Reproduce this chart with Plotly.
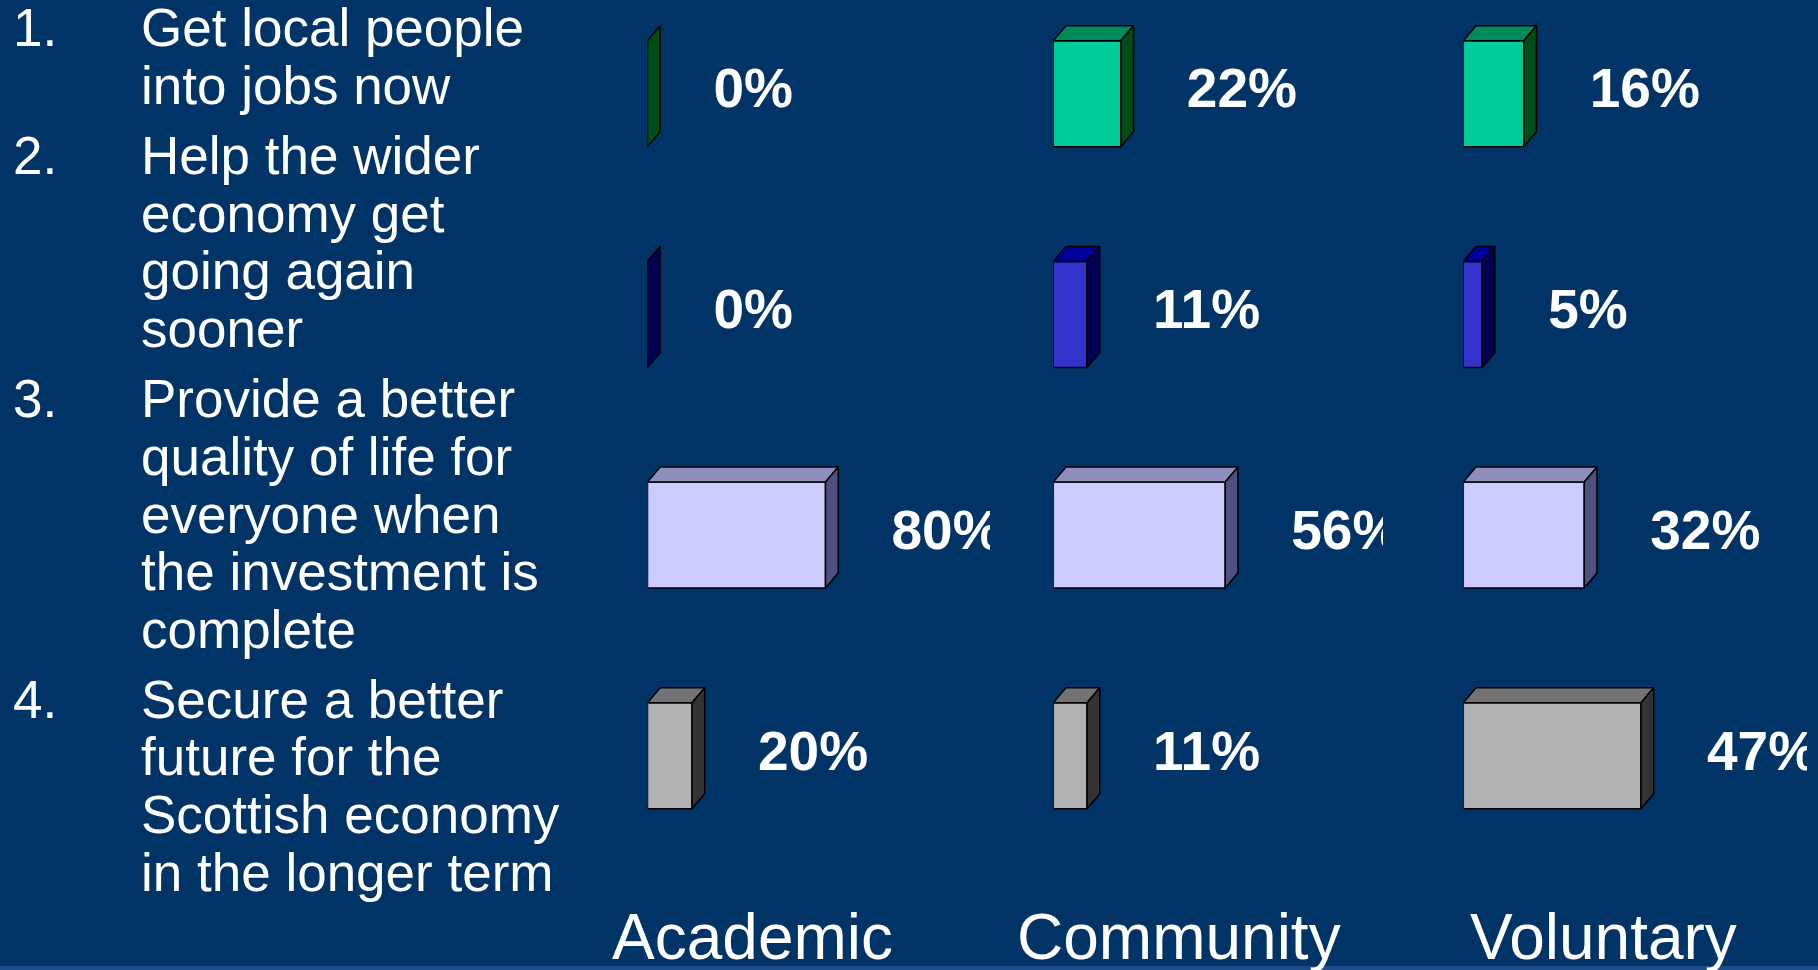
import plotly.graph_objects as go

# ---------------- data ----------------
groups = ["Academic", "Community", "Voluntary"]
academic = [0, 0, 80, 20]
community = [22, 11, 56, 11]
voluntary = [16, 5, 32, 47]

statement_numbers = ["1.", "2.", "3.", "4."]
statement_lines = [
    ["Get local people", "into jobs now"],
    ["Help the wider", "economy get", "going again", "sooner"],
    ["Provide a better", "quality of life for", "everyone when", "the investment is", "complete"],
    ["Secure a better", "future for the", "Scottish economy", "in the longer term"],
]

# ---------------- style / layout ----------------
W, H = 1818, 970
BG = "#003366"
FONT = "Liberation Sans, Arial, sans-serif"
front_colors = ["#00CC99", "#3333CC", "#CCCCFF", "#B2B2B2"]
top_colors = ["#00895A", "#000099", "#8F8FBF", "#737373"]
side_colors = ["#004D1A", "#000055", "#505080", "#333333"]

# panel: (values, left px, right px, px per percent)
panels = [
    (academic, 647.5, 990.0, 2.225),
    (community, 1053.3, 1383.0, 3.07),
    (voluntary, 1463.3, 1807.0, 3.78),
]
group_label_x = [752.4, 1178.5, 1603.0]
group_label_baseline = 959.3

row_px0 = 93.7
row_step = 220.7
bar_h_px = 106.0
depth_dx = 12.7
depth_dy = 15.0
label_gap = 66.0
label_size = 55

y_top = -row_px0 / row_step
y_bot = y_top + H / row_step
bw = bar_h_px / row_step
dyu = depth_dy / row_step

rows = list(range(4))

fig = go.Figure()
layout_axes = {}

for i, (vals, x0, x1, scale) in enumerate(panels):
    ax = "x" if i == 0 else f"x{i + 1}"
    key = "xaxis" if i == 0 else f"xaxis{i + 1}"
    layout_axes[key] = dict(
        domain=[x0 / W, x1 / W], range=[0, (x1 - x0) / scale],
        visible=False, anchor="y", fixedrange=True,
    )
    dxu = depth_dx / scale
    # front faces
    fig.add_trace(go.Bar(
        x=vals, y=rows, orientation="h", width=bw,
        marker=dict(color=front_colors, line=dict(color="black", width=1.5)),
        xaxis=ax, yaxis="y", showlegend=False, hoverinfo="skip",
    ))
    # top and side faces
    for r, v in zip(rows, vals):
        yt = r - bw / 2
        yb = r + bw / 2
        fig.add_trace(go.Scatter(
            x=[0, v, v + dxu, dxu, 0],
            y=[yt, yt, yt - dyu, yt - dyu, yt],
            mode="lines", fill="toself", fillcolor=top_colors[r],
            line=dict(color="black", width=1.5),
            xaxis=ax, yaxis="y", showlegend=False, hoverinfo="skip",
        ))
        fig.add_trace(go.Scatter(
            x=[v, v, v + dxu, v + dxu, v],
            y=[yt, yb, yb - dyu, yt - dyu, yt],
            mode="lines", fill="toself", fillcolor=side_colors[r],
            line=dict(color="black", width=1.5),
            xaxis=ax, yaxis="y", showlegend=False, hoverinfo="skip",
        ))
    # value labels
    fig.add_trace(go.Scatter(
        x=[v + label_gap / scale for v in vals], y=rows,
        mode="text", text=[f"{v}%" for v in vals],
        textposition="middle right", cliponaxis=True,
        textfont=dict(family=FONT, size=label_size, color="white", weight="bold"),
        xaxis=ax, yaxis="y", showlegend=False, hoverinfo="skip",
    ))

annotations = []
# left-hand statements
item_baselines = [46.3, 173.8, 417.3, 717.6]
line_step = 57.6
fs_left = 53
for num, lines, b0 in zip(statement_numbers, statement_lines, item_baselines):
    for k, line in enumerate(lines):
        base = b0 + k * line_step
        yc = base - 0.3465 * fs_left
        if k == 0:
            annotations.append(dict(
                x=11.0 / W, y=1 - yc / H, xref="paper", yref="paper",
                text=num, showarrow=False, xanchor="left", yanchor="middle",
                font=dict(family=FONT, size=fs_left, color="white"),
            ))
        annotations.append(dict(
            x=139.0 / W, y=1 - yc / H, xref="paper", yref="paper",
            text=line, showarrow=False, xanchor="left", yanchor="middle",
            font=dict(family=FONT, size=fs_left, color="white"),
        ))

# group labels
fs_grp = 64
for g, gx in zip(groups, group_label_x):
    yc = group_label_baseline - 0.3465 * fs_grp
    annotations.append(dict(
        x=gx / W, y=1 - yc / H, xref="paper", yref="paper",
        text=g, showarrow=False, xanchor="center", yanchor="middle",
        font=dict(family=FONT, size=fs_grp, color="white"),
    ))

fig.update_layout(
    width=W, height=H,
    margin=dict(l=0, r=0, t=0, b=0, pad=0),
    paper_bgcolor=BG, plot_bgcolor="rgba(0,0,0,0)",
    yaxis=dict(range=[y_bot, y_top], visible=False, domain=[0, 1], fixedrange=True),
    annotations=annotations,
    showlegend=False,
    shapes=[dict(type="rect", xref="paper", yref="paper", x0=0, x1=1,
                 y0=0, y1=4 / H, fillcolor="#1E4B8C", line=dict(width=0),
                 layer="below")],
    **layout_axes,
)

fig.write_html(
    "out.html",
    config={"displayModeBar": False, "staticPlot": True},
    post_script="document.body.style.margin='0';document.body.style.overflow='hidden';",
)
